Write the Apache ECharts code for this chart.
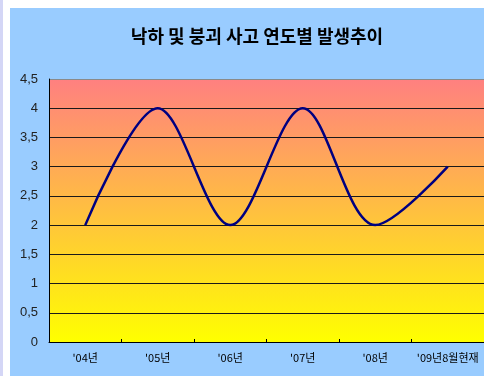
<!DOCTYPE html>
<html>
<head>
<meta charset="utf-8">
<script src="https://cdn.jsdelivr.net/npm/echarts@6/dist/echarts.min.js"></script>
<style>
  html, body { margin: 0; padding: 0; background: #ffffff; width: 484px; height: 376px; overflow: hidden; }
  #strip { position: absolute; left: 0; top: 0; width: 3px; height: 376px; background: #d4d6f6; }
  #chart { position: absolute; left: 10px; top: 8px; width: 474px; height: 368px; }
</style>
</head>
<body>
<div id="strip"></div>
<div id="chart"></div>
<script>
// Yearly occurrence trend of falling / collapse accidents
const titleText = '낙하 및 붕괴 사고 연도별 발생추이';
const years = ["'04년", "'05년", "'06년", "'07년", "'08년", "'09년8월현재"];
const counts = [2, 4, 2, 4, 2, 3];
const yMin = 0;
const yMax = 4.5;
const yStep = 0.5;

const chart = echarts.init(document.getElementById('chart'), null, { renderer: 'canvas' });

const gridLineColors = [];
for (let v = yMin; v <= yMax + 1e-9; v += yStep) {
  gridLineColors.push(Math.abs(v - yMax) < 1e-9 ? '#8a8a8a' : '#1a1a1a');
}

chart.setOption({
  backgroundColor: '#99ccff',
  animation: false,
  title: {
    text: titleText,
    left: 242,
    top: 14,
    textAlign: 'center',
    textStyle: {
      fontFamily: 'Noto Sans CJK KR',
      fontSize: 18,
      fontWeight: 'bold',
      color: '#000000'
    }
  },
  grid: {
    left: 39,
    top: 71,
    width: 441,
    bottom: 34,
    show: true,
    borderWidth: 0,
    backgroundColor: {
      type: 'linear', x: 0, y: 0, x2: 0, y2: 1,
      colorStops: [
        { offset: 0, color: '#ff8080' },
        { offset: 1, color: '#ffff00' }
      ]
    }
  },
  xAxis: {
    type: 'category',
    data: years,
    boundaryGap: true,
    axisLine: { show: true, lineStyle: { color: '#000000', width: 1 } },
    axisTick: { show: true, inside: true, length: 3, lineStyle: { color: '#000000' } },
    axisLabel: {
      interval: 0,
      margin: 10,
      fontFamily: 'Noto Sans CJK KR',
      fontSize: 11,
      color: '#000000'
    },
    splitLine: { show: false }
  },
  yAxis: {
    type: 'value',
    min: yMin,
    max: yMax,
    interval: yStep,
    axisLine: { show: true, lineStyle: { color: '#000000', width: 1 } },
    axisTick: { show: false },
    axisLabel: {
      margin: 11,
      fontFamily: 'Liberation Sans',
      fontSize: 13,
      color: '#222222',
      formatter: v => String(v).replace('.', ',')
    },
    splitLine: { show: true, lineStyle: { color: gridLineColors, width: 1 } }
  },
  series: [{
    type: 'line',
    data: counts,
    smooth: 0.33,
    smoothConstraint: false,
    showSymbol: false,
    symbol: 'none',
    lineStyle: { color: '#000080', width: 2.5 }
  }]
});
</script>
</body>
</html>
